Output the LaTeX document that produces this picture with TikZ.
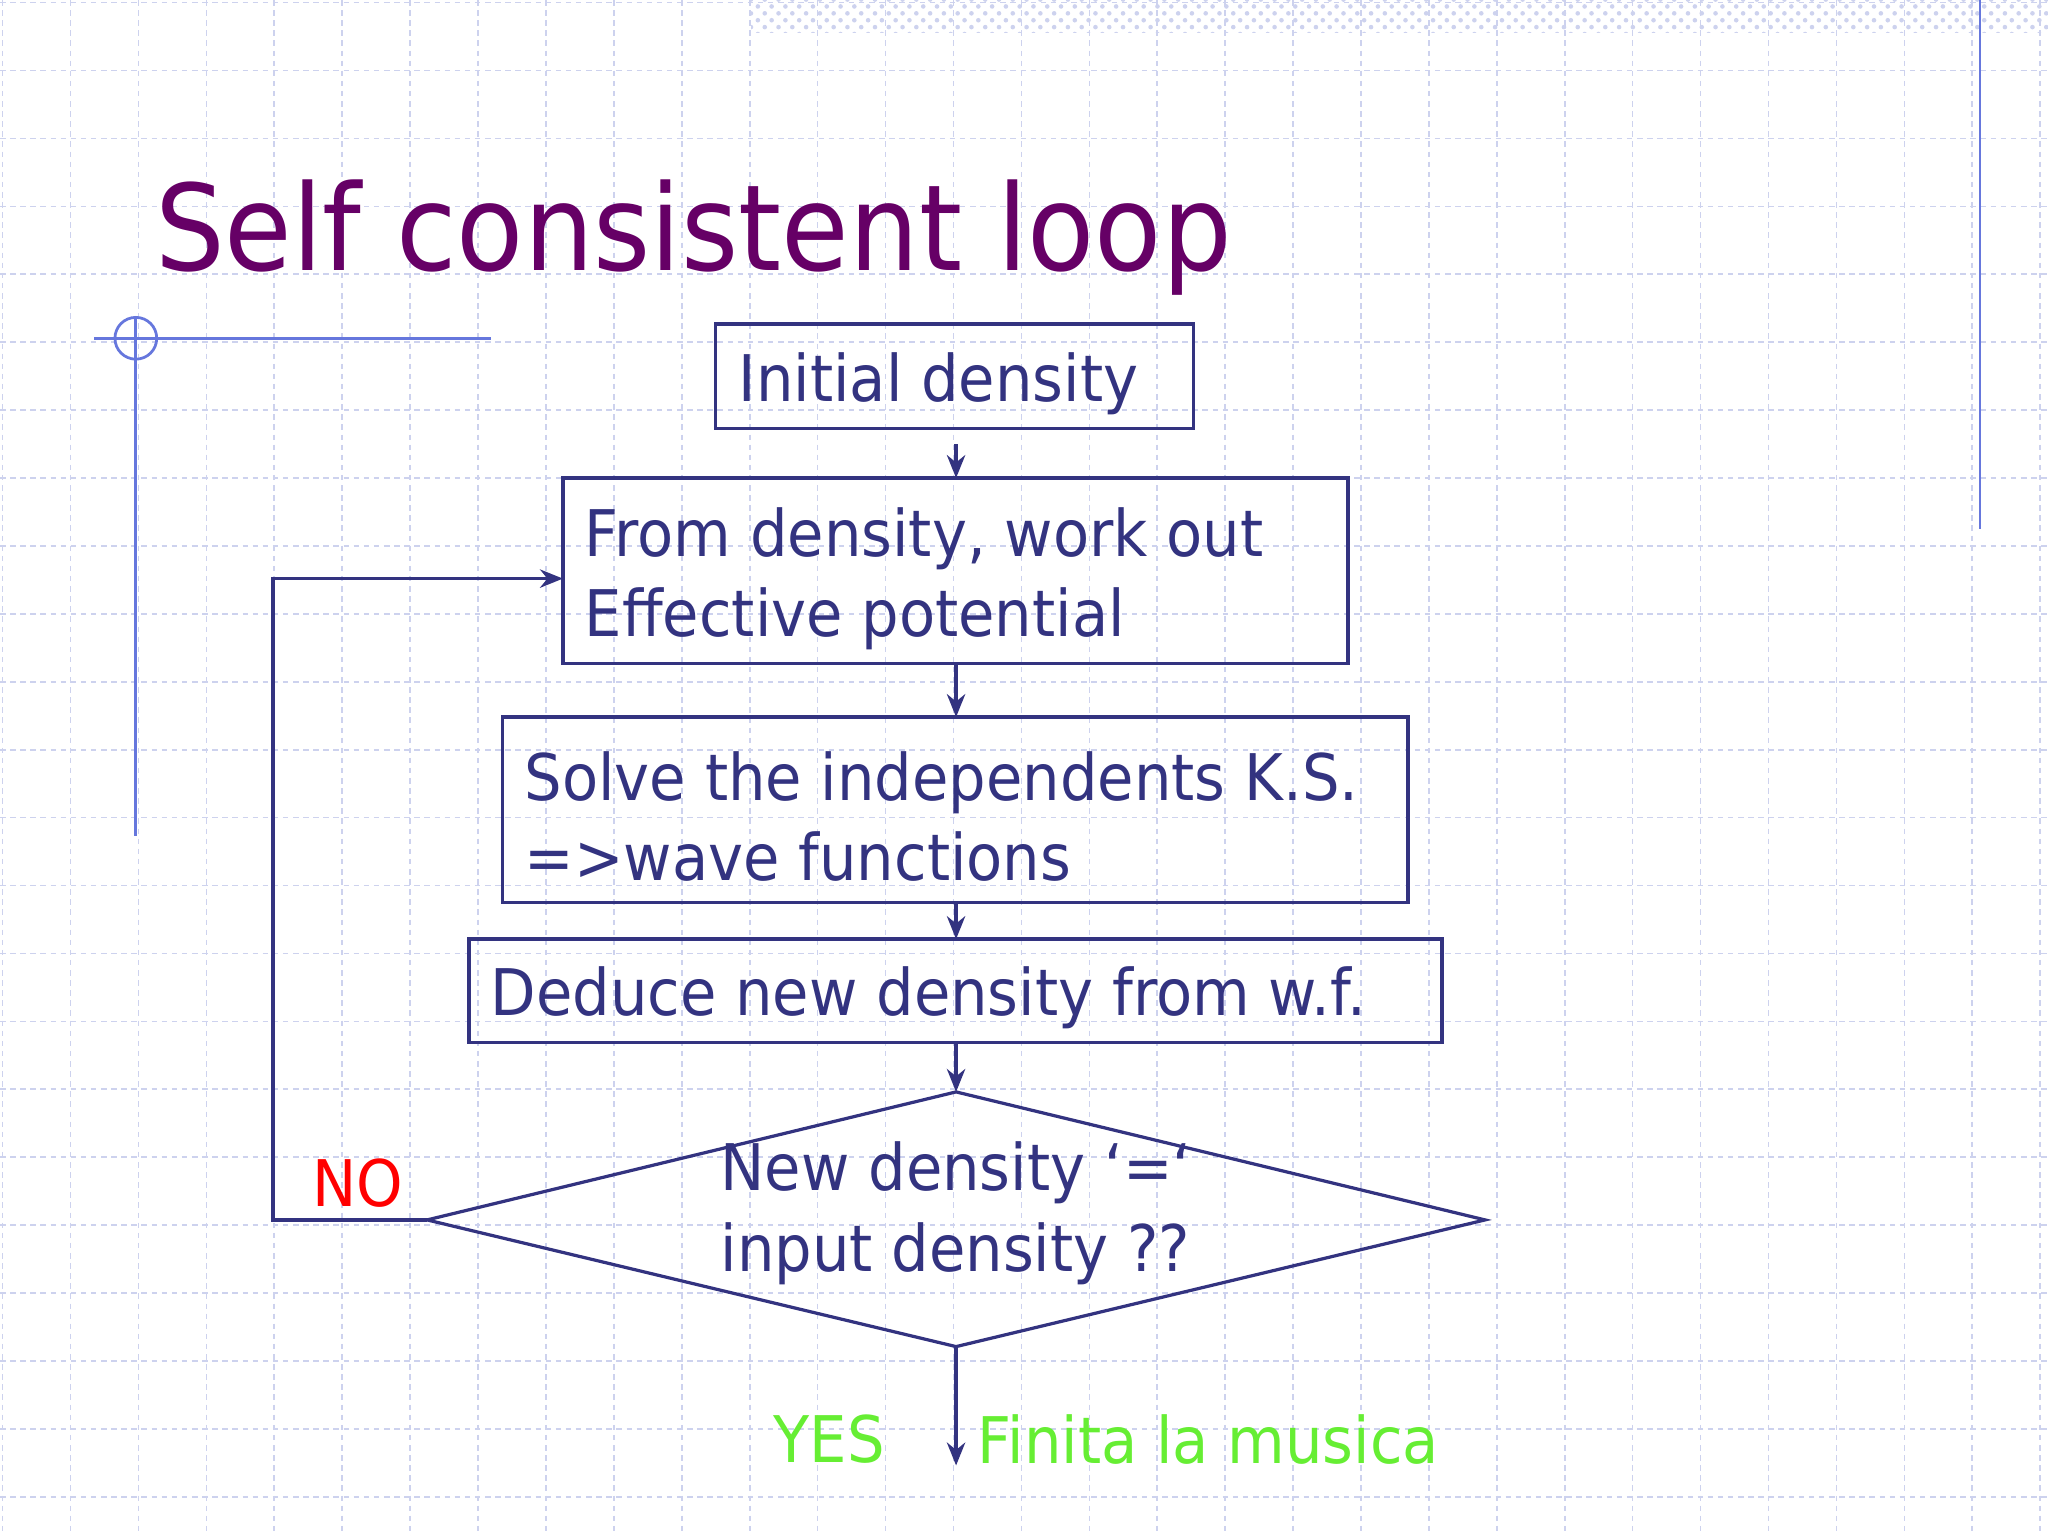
\documentclass[tikz,border=0pt]{standalone}
\usepackage{fontspec}
\setmainfont[FakeStretch=0.92]{DejaVu Sans}
\usetikzlibrary{arrows.meta,patterns}
\definecolor{navy}{HTML}{333380}
\definecolor{ttl}{HTML}{660066}
\definecolor{gridc}{HTML}{CDD2EE}
\definecolor{deco}{HTML}{6677DD}
\definecolor{yes}{HTML}{66EE33}
\tikzset{bx/.style={draw=navy,line width=0.7pt},
 tx/.style={text=navy,font=\fontsize{14pt}{17.5pt}\selectfont,anchor=west,inner sep=0pt,align=left},
 ar/.style={draw=navy,line width=0.7pt,-{Stealth[length=5pt,width=4pt]}}}
\begin{document}
\begin{tikzpicture}[x=0.01cm,y=-0.01cm]
\useasboundingbox (0,0) rectangle (1568,1176);
\fill[white] (0,0) rectangle (1568,1176);
\foreach \i in {0,...,30} \draw[gridc,dash pattern=on 1.2pt off 1pt,line width=0.35pt] (\i*52+2,0) -- (\i*52+2,1176);
\foreach \j in {0,...,23} \draw[gridc,dash pattern=on 1.2pt off 1pt,line width=0.35pt] (0,\j*52+2) -- (1568,\j*52+2);
\fill[pattern=crosshatch dots,pattern color=gridc] (575,0) rectangle (1568,25);
\draw[deco,line width=0.6pt] (1516,0) -- (1516,405);
\draw[deco,line width=0.6pt] (72,259) -- (376,259);
\draw[deco,line width=0.6pt] (104,242) -- (104,640);
\draw[deco,line width=0.6pt] (104,259) circle[radius=16];
\node[anchor=west,inner sep=0pt,text=ttl,font=\fontsize{26pt}{32pt}\selectfont] (title) at (118,182) {Self consistent loop};
\draw[bx] (548,248) rectangle (914,328);
\node[tx] (b1) at (565,294) {Initial density};
\draw[bx] (431,366) rectangle (1032,508);
\node[tx] (b2) at (447,443) {From density, work out\\Effective potential};
\draw[bx] (385,549) rectangle (1078,691);
\node[tx] (b3) at (401,625) {Solve the independents K.S.\\=>wave functions};
\draw[bx] (359,719) rectangle (1104,798);
\node[tx] (b4) at (375,764) {Deduce new density from w.f.};
\coordinate (L) at (327,934); \coordinate (R) at (1137,934);
\coordinate (T) at (732,836); \coordinate (B) at (732,1031);
\draw[bx] (L) -- (T) -- (R) -- (B) -- cycle;
\node[tx,anchor=center] (d) at (732,929) {New density `=`\\input density ??};
\coordinate (a0) at (732,340); \coordinate (a1) at (732,366);
\draw[ar] (a0) -- (a1);
\draw[ar] (732,508) -- (732,549);
\draw[ar] (732,691) -- (732,719);
\draw[ar] (732,798) -- (T);
\coordinate (E) at (732,1122);
\draw[ar] (B) -- (E);
\coordinate (c1) at (209,934); \coordinate (c2) at (209,443); \coordinate (c3) at (431,443);
\draw[ar] (L) -- (c1) -- (c2) -- (c3);
\node[text=red,font=\fontsize{14pt}{17pt}\selectfont,inner sep=0pt] (no) at (274,906) {NO};
\node[text=yes,font=\fontsize{14pt}{17pt}\selectfont,inner sep=0pt] (yesn) at (635,1102) {YES};
\node[text=yes,font=\fontsize{14pt}{17pt}\selectfont,inner sep=0pt,anchor=west] (fin) at (748,1102) {Finita la musica};
\end{tikzpicture}
\end{document}
